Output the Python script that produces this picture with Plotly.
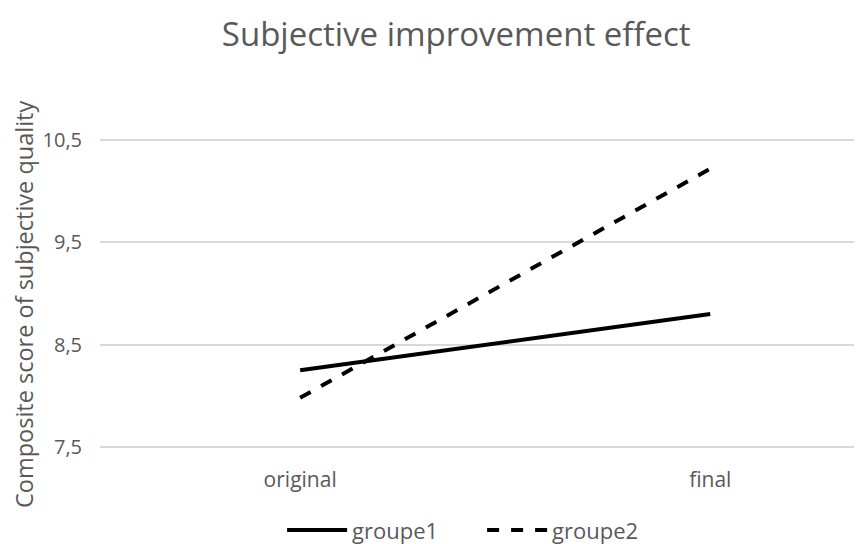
import plotly.graph_objects as go

categories = ["original", "final"]
groupe1 = [8.25, 8.8]
groupe2 = [7.98, 10.22]
series_names = ["groupe1", "groupe2"]
y_ticks = [7.5, 8.5, 9.5, 10.5]
y_tick_labels = ["7,5", "8,5", "9,5", "10,5"]

fig = go.Figure()
fig.add_trace(go.Scatter(x=categories, y=groupe1, mode="lines", name=series_names[0],
                         line=dict(color="black", width=4, dash="solid")))
fig.add_trace(go.Scatter(x=categories, y=groupe2, mode="lines", name=series_names[1],
                         line=dict(color="black", width=4, dash="dash")))

gray = "#595959"
T, B = 127, 100
plot_h = 544 - T - B
fig.update_layout(
    width=862, height=544,
    margin=dict(l=92, r=8, t=T, b=B, autoexpand=False),
    paper_bgcolor="white", plot_bgcolor="white",
    font=dict(family="Open Sans, Liberation Sans, sans-serif", color=gray, size=18),
    title=dict(text="Subjective improvement effect", x=0.52, xanchor="center", xref="container",
               y=0.952, yanchor="middle", yref="container", font=dict(size=33, color=gray)),
    xaxis=dict(type="category", range=[-0.488, 1.37], showgrid=False, zeroline=False,
               showline=False, ticks="", tickfont=dict(size=21, color=gray),
               ticklabelstandoff=13),
    yaxis=dict(range=[7.45, 10.55], tickvals=y_ticks, ticktext=y_tick_labels,
               showgrid=True, gridcolor="#d9d9d9", gridwidth=1.5, zeroline=False,
               showline=False, ticks="", tickfont=dict(size=20, color=gray),
               ticklabelstandoff=17),
    legend=dict(orientation="h", x=0.55, xanchor="center", xref="container",
                y=0.040, yanchor="middle", yref="container",
                font=dict(size=22, color=gray), itemwidth=60, entrywidth=125),
    showlegend=True,
    annotations=[dict(text="Composite score of subjective quality", textangle=-90,
                      xref="paper", yref="paper", x=(16 - 92) / 762, y=(544 - B - 297) / plot_h,
                      xanchor="center", yanchor="middle", showarrow=False,
                      font=dict(size=23.5, color=gray))],
)

fig.write_html("out.html")
